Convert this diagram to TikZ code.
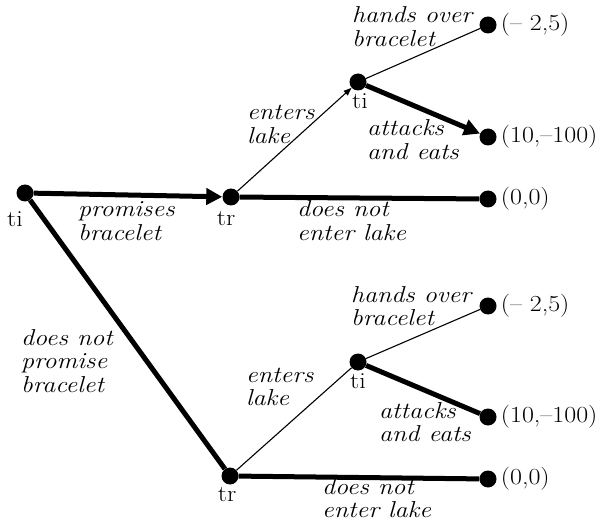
\documentclass[tikz,border=0pt]{standalone}
\usepackage{fontspec}
\usepackage{graphicx}
\usetikzlibrary{arrows.meta}
\newcommand\sx[1]{\scalebox{1.13}[1]{#1}}
\newcommand\twoln[2]{\raisebox{0pt}[\height][\dimexpr\depth-6pt\relax]{\begin{tabular}[t]{@{}l@{}}\sx{#1}\\\sx{#2}\end{tabular}}}
\newcommand\threeln[3]{\raisebox{0pt}[\height][\dimexpr\depth-6pt\relax]{\begin{tabular}[t]{@{}l@{}}\sx{#1}\\\sx{#2}\\\sx{#3}\end{tabular}}}
\begin{document}
\begin{tikzpicture}[x=1pt,y=-1pt,
  dot/.style={circle,fill=black,inner sep=0pt,minimum size=17pt},
  heavy/.style={line width=5pt},
  light/.style={line width=1.1pt},
  bigtip/.style={-{Triangle[length=16pt,width=16pt]}},
  smalltip/.style={-{Triangle[length=8pt,width=6pt]}},
  lbl/.style={font=\fontsize{23}{23.5}\selectfont\itshape,inner sep=0pt,anchor=base west},
  pay/.style={font=\fontsize{23}{24}\selectfont,inner sep=0pt,anchor=west},
  who/.style={font=\fontsize{23}{24}\selectfont,inner sep=0pt}]
\useasboundingbox (0,0) rectangle (602,521);
% nodes
\node[dot] (r) at (25,193) {};
\node[dot] (tr1) at (231,197) {};
\node[dot] (ti1) at (358,82) {};
\node[dot] (a1) at (488,25) {};
\node[dot] (b1) at (488,137) {};
\node[dot] (c1) at (488,199) {};
\node[dot] (tr2) at (230,476) {};
\node[dot] (ti2) at (358,362) {};
\node[dot] (a2) at (488,306) {};
\node[dot] (b2) at (488,417) {};
\node[dot] (c2) at (488,479) {};
% edges
\draw[heavy,bigtip] (r) -- (tr1);
\draw[heavy] (r) -- (tr2);
\draw[light,smalltip] (tr1) -- (ti1);
\draw[heavy] (tr1) -- (c1);
\draw[light] (ti1) -- (a1);
\draw[heavy,bigtip] (ti1) -- (b1);
\draw[light] (tr2) -- (ti2);
\draw[heavy] (tr2) -- (c2);
\draw[light] (ti2) -- (a2);
\draw[heavy] (ti2) -- (b2);
% player labels
\node[who] (lr) at (15,219) {\sx{ti}};
\node[who] (ltr1) at (226,219) {\sx{tr}};
\node[who] (lti1) at (360,101) {\sx{ti}};
\node[who] (lti2) at (358,381) {\sx{ti}};
\node[who] (ltr2) at (227,495) {\sx{tr}};
% action labels
\node[lbl] (h1) at (352,23) {\twoln{hands over}{bracelet}};
\node[lbl] (k1) at (367,136) {\twoln{attacks}{and eats}};
\node[lbl] (e1) at (247,120) {\twoln{enters}{lake}};
\node[lbl] (p1) at (78,217) {\twoln{promises}{bracelet}};
\node[lbl] (n1) at (297,217) {\twoln{does not}{enter lake}};
\node[lbl] (h2) at (351,302) {\twoln{hands over}{bracelet}};
\node[lbl] (e2) at (246,382) {\twoln{enters}{lake}};
\node[lbl] (k2) at (379,418) {\twoln{attacks}{and eats}};
\node[lbl] (n2) at (322,494) {\twoln{does not}{enter lake}};
\node[lbl] (np) at (21,345) {\threeln{does not}{promise}{bracelet}};
% payoffs
\node[pay] (pa1) at ([xshift=4pt]a1.east) {\sx{(-- 2,5)}};
\node[pay] (pb1) at ([xshift=4pt]b1.east) {\sx{(10,--100)}};
\node[pay] (pc1) at ([xshift=4pt]c1.east) {\sx{(0,0)}};
\node[pay] (pa2) at ([xshift=4pt]a2.east) {\sx{(-- 2,5)}};
\node[pay] (pb2) at ([xshift=4pt]b2.east) {\sx{(10,--100)}};
\node[pay] (pc2) at ([xshift=4pt]c2.east) {\sx{(0,0)}};
\end{tikzpicture}
\end{document}
